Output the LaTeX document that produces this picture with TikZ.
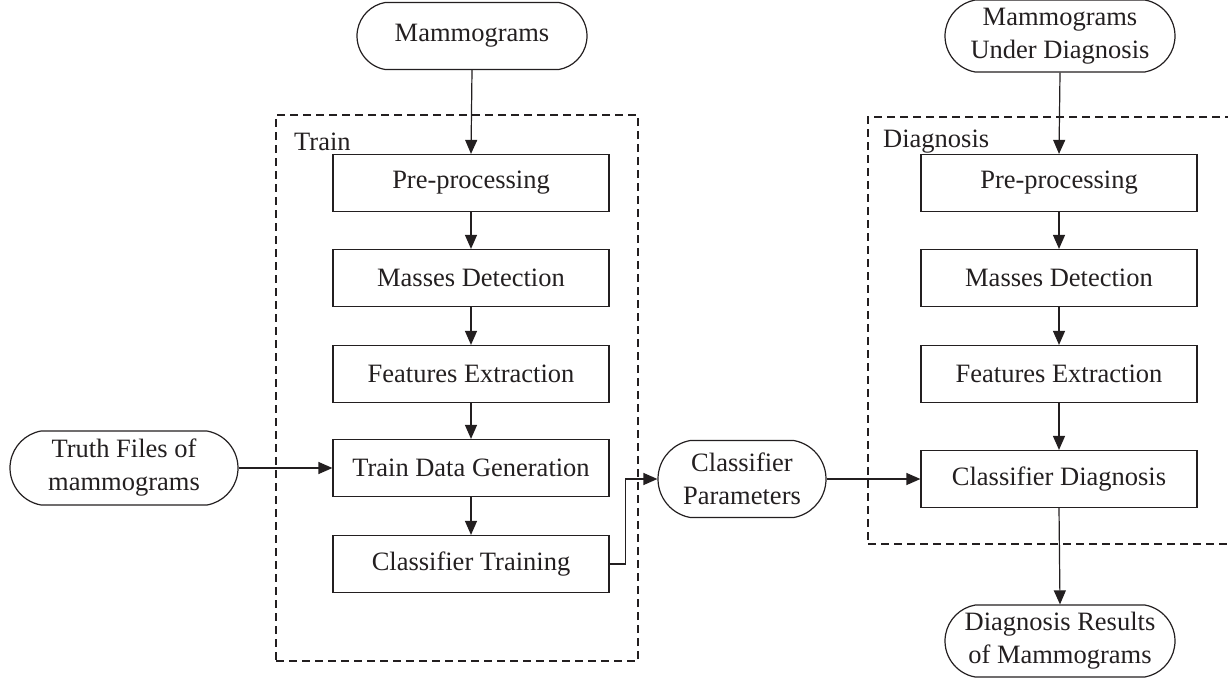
\documentclass[tikz,border=0pt]{standalone}
\usepackage{fontspec}
\setmainfont{Liberation Serif}
\usetikzlibrary{arrows.meta,shapes.misc}
\definecolor{ink}{RGB}{35,31,32}
\begin{document}
\begin{tikzpicture}[x=1pt,y=-1pt,
  every node/.style={font=\fontsize{26.5}{33}\selectfont, text=ink},
  procbox/.style={draw=ink, line width=1.2pt, minimum width=276pt,
    minimum height=57pt, inner sep=0pt},
  term/.style={draw=ink, line width=1.2pt, rounded rectangle,
    rounded rectangle arc length=160, align=center, inner sep=0pt},
  group/.style={draw=ink, line width=1.8pt, dash pattern=on 8pt off 5pt,
    inner sep=0pt},
  flow/.style={draw=ink, line width=1.2pt, -{Triangle[length=14pt,width=12pt]}},
  tag/.style={anchor=west, inner sep=0pt}]
\useasboundingbox (0,0) rectangle (1228,677);

% dashed stage frames
\node[group, minimum width=362pt, minimum height=546pt] (train) at (457,388) {};
\node[group, minimum width=372pt, minimum height=427pt] (diag) at (1054,330.5) {};
\node[tag] (trainlbl) at (294,142) {Train};
\node[tag] (diaglbl) at (883,142) {Diagnosis};

% training column
\node[term, minimum width=230pt, minimum height=67pt] (mam) at (472,36) {Mammograms};
\node[procbox] (pp1) at (471,183) {Pre-processing};
\node[procbox] (md1) at (471,278) {Masses Detection};
\node[procbox] (fe1) at (471,374) {Features Extraction};
\node[procbox] (tdg) at (471,468) {Train Data Generation};
\node[procbox] (ct) at (471,564) {Classifier Training};
\node[term, minimum width=228pt, minimum height=74pt] (truth) at (124,468)
  {Truth Files of\\mammograms};

% classifier parameters
\node[term, minimum width=168pt, minimum height=77pt] (params) at (742,479)
  {Classifier\\Parameters};

% diagnosis column
\node[term, minimum width=230pt, minimum height=72pt] (mud) at (1060,36)
  {Mammograms\\Under Diagnosis};
\node[procbox] (pp2) at (1059,183) {Pre-processing};
\node[procbox] (md2) at (1059,278) {Masses Detection};
\node[procbox] (fe2) at (1059,374) {Features Extraction};
\node[procbox] (cd) at (1059,479) {Classifier Diagnosis};
\node[term, minimum width=230pt, minimum height=72pt] (res) at (1060,641)
  {Diagnosis Results\\of Mammograms};

% connectors
\draw[flow] (mam.south) -- (pp1.north);
\draw[flow] (pp1) -- (md1);
\draw[flow] (md1) -- (fe1);
\draw[flow] (fe1) -- (tdg);
\draw[flow] (tdg) -- (ct);
\draw[flow] (truth.east) -- (tdg.west);
\draw[flow] (ct.east) -- ++(16,0) |- (params.west);
\draw[flow] (params.east) -- (cd.west);
\draw[flow] (mud.south) -- (pp2.north);
\draw[flow] (pp2) -- (md2);
\draw[flow] (md2) -- (fe2);
\draw[flow] (fe2) -- (cd);
\draw[flow] (cd.south) -- (res.north);
\end{tikzpicture}
\end{document}
